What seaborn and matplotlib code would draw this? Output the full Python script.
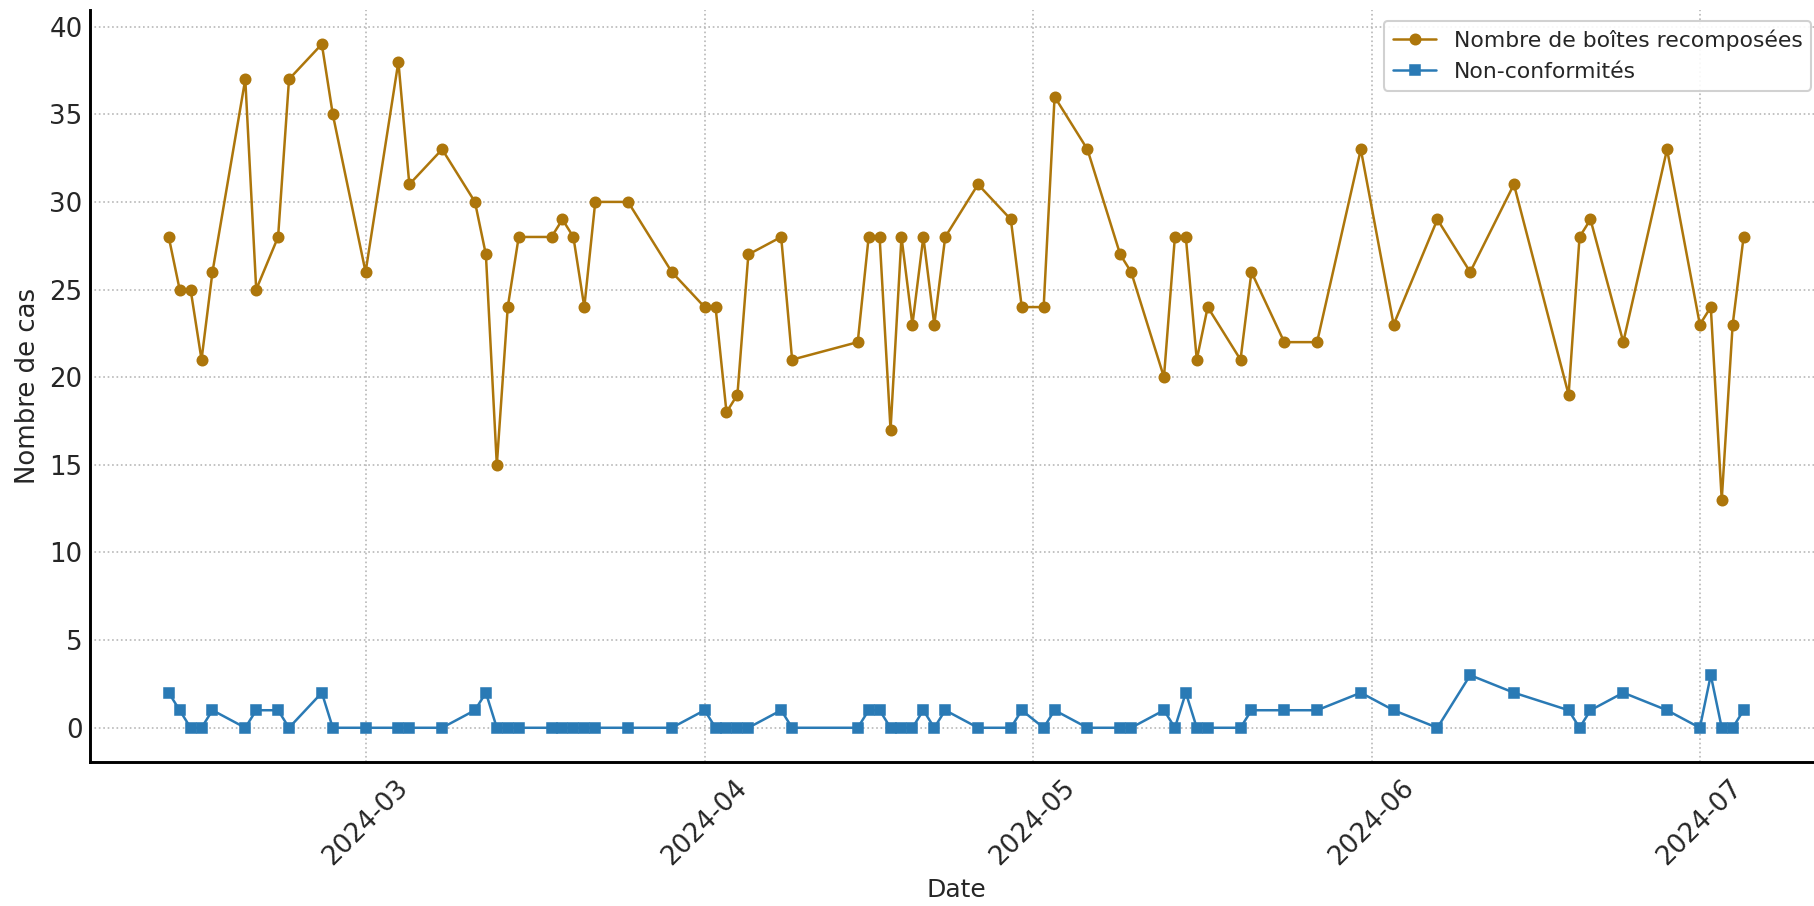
import matplotlib
matplotlib.use("Agg")
import matplotlib.pyplot as plt
import matplotlib.dates as mdates
import pandas as pd
import seaborn as sns

# ─── Data ────────────────────────────────────────────────────────────────────
dates = [
    "2024-02-12", "2024-02-13", "2024-02-14", "2024-02-15", "2024-02-16",
    "2024-02-19", "2024-02-20", "2024-02-22", "2024-02-23", "2024-02-26",
    "2024-02-27", "2024-03-01", "2024-03-04", "2024-03-05", "2024-03-08",
    "2024-03-11", "2024-03-12", "2024-03-13", "2024-03-14", "2024-03-15",
    "2024-03-18", "2024-03-19", "2024-03-20", "2024-03-21", "2024-03-22",
    "2024-03-25", "2024-03-29", "2024-04-01", "2024-04-02", "2024-04-03",
    "2024-04-04", "2024-04-05", "2024-04-08", "2024-04-09", "2024-04-15",
    "2024-04-16", "2024-04-17", "2024-04-18", "2024-04-19", "2024-04-20",
    "2024-04-21", "2024-04-22", "2024-04-23", "2024-04-26", "2024-04-29",
    "2024-04-30", "2024-05-02", "2024-05-03", "2024-05-06", "2024-05-09",
    "2024-05-10", "2024-05-13", "2024-05-14", "2024-05-15", "2024-05-16",
    "2024-05-17", "2024-05-20", "2024-05-21", "2024-05-24", "2024-05-27",
    "2024-05-31", "2024-06-03", "2024-06-07", "2024-06-10", "2024-06-14",
    "2024-06-19", "2024-06-20", "2024-06-21", "2024-06-24", "2024-06-28",
    "2024-07-01", "2024-07-02", "2024-07-03", "2024-07-04", "2024-07-05",
]

boites = [
    28, 25, 25, 21, 26,
    37, 25, 28, 37, 39,
    35, 26, 38, 31, 33,
    30, 27, 15, 24, 28,
    28, 29, 28, 24, 30,
    30, 26, 24, 24, 18,
    19, 27, 28, 21, 22,
    28, 28, 17, 28, 23,
    28, 23, 28, 31, 29,
    24, 24, 36, 33, 27,
    26, 20, 28, 28, 21,
    24, 21, 26, 22, 22,
    33, 23, 29, 26, 31,
    19, 28, 29, 22, 33,
    23, 24, 13, 23, 28,
]

non_conf = [
    2, 1, 0, 0, 1,
    0, 1, 1, 0, 2,
    0, 0, 0, 0, 0,
    1, 2, 0, 0, 0,
    0, 0, 0, 0, 0,
    0, 0, 1, 0, 0,
    0, 0, 1, 0, 0,
    1, 1, 0, 0, 0,
    1, 0, 1, 0, 0,
    1, 0, 1, 0, 0,
    0, 1, 0, 2, 0,
    0, 0, 1, 1, 1,
    2, 1, 0, 3, 2,
    1, 0, 1, 2, 1,
    0, 3, 0, 0, 1,
]

label_boites = "Nombre de boîtes recomposées"
label_nc = "Non-conformités"

df = pd.DataFrame({
    "Date": pd.to_datetime(dates),
    "boites": boites,
    "non_conf": non_conf,
})

# ─── Plot ────────────────────────────────────────────────────────────────────
sns.set_theme(style="white")
plt.rcParams["font.family"] = ["DejaVu Sans"]

BROWN = "#ad760b"
BLUE = "#2a7ab5"

fig = plt.figure(figsize=(1814 / 150, 906 / 150), dpi=150)
ax = fig.add_axes([0.0496, 0.159, 0.955, 0.830])

sns.lineplot(data=df, x="Date", y="boites", ax=ax, color=BROWN,
             marker="o", markersize=5, markeredgecolor=BROWN,
             linewidth=1.2, label=label_boites)
sns.lineplot(data=df, x="Date", y="non_conf", ax=ax, color=BLUE,
             marker="s", markersize=5, markeredgecolor=BLUE,
             linewidth=1.2, label=label_nc)

ax.xaxis.set_major_locator(mdates.MonthLocator())
ax.xaxis.set_major_formatter(mdates.DateFormatter("%Y-%m"))
ax.tick_params(axis="x", labelsize=12.5, rotation=45, direction="in",
               length=4, width=1, color="black", pad=6)
ax.tick_params(axis="y", labelsize=12.5, direction="in",
               length=4, width=1, color="black")
ax.set_xlabel("Date", fontsize=12)
ax.set_ylabel("Nombre de cas", fontsize=12.5)

ax.grid(True, linestyle=":", linewidth=0.8, color="#b8b8b8")
for side in ["top", "right"]:
    ax.spines[side].set_visible(False)
for side in ["left", "bottom"]:
    ax.spines[side].set_color("black")
    ax.spines[side].set_linewidth(1.4)

ax.legend(loc="upper right", fontsize=10.5, frameon=True, fancybox=True,
          edgecolor="#cccccc", framealpha=0.9)

fig.savefig("out.png", dpi=150, facecolor="white")
